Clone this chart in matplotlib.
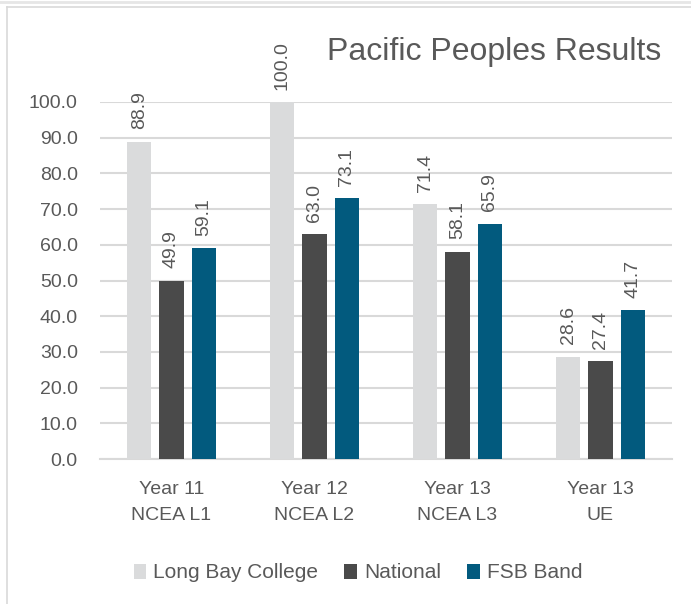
import matplotlib
matplotlib.use("Agg")
import matplotlib.pyplot as plt
from matplotlib.lines import Line2D
from matplotlib.patches import Patch
import numpy as np

plt.rcParams['font.family'] = ['Liberation Sans', 'DejaVu Sans']

categories = ["Year 11\nNCEA L1", "Year 12\nNCEA L2", "Year 13\nNCEA L3", "Year 13\nUE"]
series_names = ["Long Bay College", "National", "FSB Band"]
long_bay = [88.9, 100.0, 71.4, 28.6]
national = [49.9, 63.0, 58.1, 27.4]
fsb_band = [59.1, 73.1, 65.9, 41.7]
y_ticks = [0, 10, 20, 30, 40, 50, 60, 70, 80, 90, 100]

colors = ["#dadbdc", "#4a4a4a", "#025a7e"]
text_col = "#595959"
grid_col = "#d9d9d9"
fs = 14

fig = plt.figure(figsize=(6.91, 6.04), dpi=100)
ax = fig.add_axes([100 / 691, 1 - 459 / 604, 572 / 691, 357 / 604])

x = np.arange(len(categories))
width = 0.168
step = 0.224
for i, (vals, col) in enumerate(zip([long_bay, national, fsb_band], colors)):
    pos = x + (i - 1) * step
    ax.bar(pos, vals, width, color=col, zorder=3, label=series_names[i])
    for p, v in zip(pos, vals):
        ax.annotate(f"{v:.1f}", (p, v), xytext=(0, 9), textcoords="offset points",
                    rotation=90, ha="center", va="bottom", fontsize=fs,
                    color=text_col, annotation_clip=False)

ax.set_xlim(-0.5, len(categories) - 0.5)
ax.set_ylim(0, 100)
ax.set_yticks(y_ticks)
ax.set_yticklabels([f"{t:.1f}" for t in y_ticks], fontsize=fs, color=text_col)
ax.set_xticks(x)
ax.set_xticklabels(categories, fontsize=fs, color=text_col, linespacing=1.65)
ax.tick_params(axis="y", length=0, pad=16)
ax.tick_params(axis="x", length=0, pad=16)
ax.grid(axis="y", color=grid_col, linewidth=1.5, zorder=0)
for s in ["top", "right", "left"]:
    ax.spines[s].set_visible(False)
ax.spines["bottom"].set_color(grid_col)
ax.spines["bottom"].set_linewidth(1.5)

fig.text(661 / 691, 1 - 60 / 604, "Pacific Peoples Results", ha="right", va="baseline",
         fontsize=23, color=text_col)

handles = [Patch(facecolor=c, edgecolor="none") for c in colors]
fig.legend(handles, series_names, loc="center", bbox_to_anchor=(358 / 691, 1 - 573 / 604),
           ncol=3, frameon=False, fontsize=15, labelcolor=text_col,
           handlelength=0.6, handleheight=0.75, handletextpad=0.35, columnspacing=1.25)

# outer chart frame
fig.add_artist(Line2D([0, 1], [1 - 1.5 / 604] * 2, color="#e6e6e6", linewidth=2))
fig.add_artist(Line2D([6.5 / 691, 1], [1 - 6.5 / 604] * 2, color="#d9d9d9", linewidth=1.2))
fig.add_artist(Line2D([6.5 / 691] * 2, [0, 1 - 6.5 / 604], color="#d9d9d9", linewidth=1.2))

fig.savefig("out.png", dpi=100)
